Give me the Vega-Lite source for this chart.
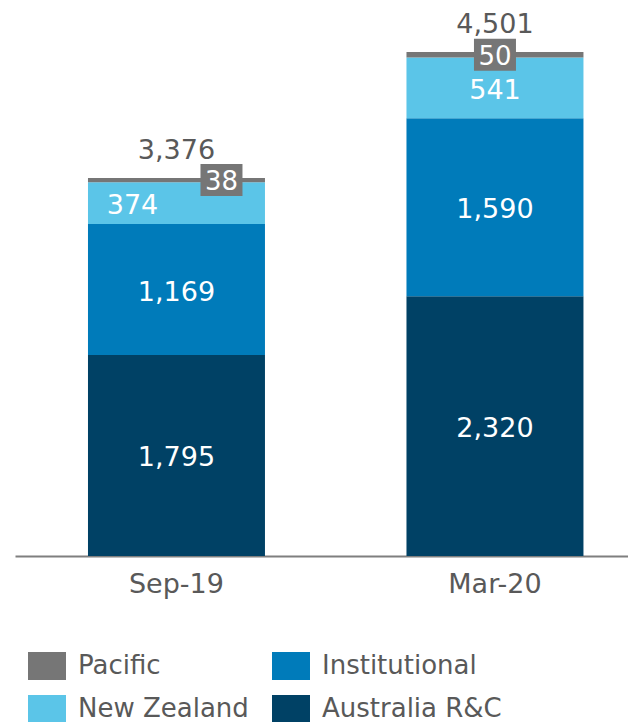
{
  "$schema": "https://vega.github.io/schema/vega-lite/v6.json",
  "width": 613,
  "height": 545,
  "padding": {"left": 15, "top": 10, "right": 0, "bottom": 0},
  "autosize": {"type": "pad"},
  "config": {"view": {"stroke": null}, "font": "DejaVu Sans"},
  "data": {
    "values": [
      {"period": "Sep-19", "segment": "Australia R&C", "rank": 1, "value": 1795},
      {"period": "Sep-19", "segment": "Institutional", "rank": 2, "value": 1169},
      {"period": "Sep-19", "segment": "New Zealand", "rank": 3, "value": 374},
      {"period": "Sep-19", "segment": "Pacific", "rank": 4, "value": 38},
      {"period": "Mar-20", "segment": "Australia R&C", "rank": 1, "value": 2320},
      {"period": "Mar-20", "segment": "Institutional", "rank": 2, "value": 1590},
      {"period": "Mar-20", "segment": "New Zealand", "rank": 3, "value": 541},
      {"period": "Mar-20", "segment": "Pacific", "rank": 4, "value": 50}
    ]
  },
  "transform": [
    {"stack": "value", "groupby": ["period"], "sort": [{"field": "rank", "order": "ascending"}], "as": ["v0", "v1"]},
    {"calculate": "(datum.v0 + datum.v1) / 2", "as": "mid"}
  ],
  "encoding": {
    "x": {
      "field": "period",
      "type": "nominal",
      "sort": ["Sep-19", "Mar-20"],
      "scale": {"paddingInner": 0.4443, "paddingOuter": 0.1845, "align": 0.621},
      "axis": {
        "title": null,
        "labelAngle": 0,
        "ticks": false,
        "domainColor": "#7f7f7f",
        "domainWidth": 2,
        "labelFontSize": 27,
        "labelColor": "#595959",
        "labelFont": "DejaVu Sans",
        "labelPadding": 15
      }
    }
  },
  "layer": [
    {
      "mark": {"type": "bar"},
      "encoding": {
        "y": {"field": "v1", "type": "quantitative", "scale": {"domain": [0, 4867], "nice": false, "zero": true}, "axis": null},
        "y2": {"field": "v0"},
        "color": {
          "field": "segment",
          "type": "nominal",
          "scale": {
            "domain": ["Pacific", "Institutional", "New Zealand", "Australia R&C"],
            "range": ["#767676", "#007bba", "#5bc5e8", "#004165"]
          },
          "legend": {
            "orient": "none",
            "direction": "horizontal",
            "legendX": 18,
            "legendY": 641,
            "columns": 2,
            "title": null,
            "symbolType": "M-1.357,-1H1.357V1H-1.357Z",
            "symbolSize": 784,
            "symbolStrokeWidth": 0,
            "symbolOpacity": 1,
            "labelFontSize": 26,
            "labelColor": "#595959",
            "labelFont": "DejaVu Sans",
            "labelOffset": 17,
            "columnPadding": 23,
            "rowPadding": 15,
            "padding": 0,
            "labelLimit": 400
          }
        }
      }
    },
    {
      "transform": [{"filter": "datum.segment != 'Pacific' && !(datum.segment == 'New Zealand' && datum.period == 'Sep-19')"}],
      "mark": {"type": "text", "color": "#ffffff", "fontSize": 27, "baseline": "alphabetic", "dy": 11},
      "encoding": {
        "y": {"field": "mid", "type": "quantitative"},
        "text": {"field": "value", "type": "quantitative", "format": ","}
      }
    },
    {
      "transform": [{"filter": "datum.segment == 'New Zealand' && datum.period == 'Sep-19'"}],
      "mark": {"type": "text", "color": "#ffffff", "fontSize": 27, "baseline": "alphabetic", "dy": 11, "dx": -44},
      "encoding": {
        "y": {"field": "mid", "type": "quantitative"},
        "text": {"field": "value", "type": "quantitative", "format": ","}
      }
    },
    {
      "transform": [{"filter": "datum.segment == 'Pacific' && datum.period == 'Sep-19'"}],
      "mark": {"type": "point", "shape": "M1.5,-1H4.125V1H1.5Z", "size": 1024, "filled": true, "opacity": 1, "color": "#767676", "strokeWidth": 0},
      "encoding": {
        "y": {"field": "mid", "type": "quantitative"}
      }
    },
    {
      "transform": [{"filter": "datum.segment == 'Pacific' && datum.period == 'Mar-20'"}],
      "mark": {"type": "point", "shape": "M-1.3125,-1H1.3125V1H-1.3125Z", "size": 1024, "filled": true, "opacity": 1, "color": "#767676", "strokeWidth": 0},
      "encoding": {
        "y": {"field": "mid", "type": "quantitative"}
      }
    },
    {
      "transform": [{"filter": "datum.segment == 'Pacific' && datum.period == 'Sep-19'"}],
      "mark": {"type": "text", "color": "#ffffff", "fontSize": 26, "baseline": "alphabetic", "dy": 10, "dx": 45},
      "encoding": {
        "y": {"field": "mid", "type": "quantitative"},
        "text": {"field": "value", "type": "quantitative", "format": ","}
      }
    },
    {
      "transform": [{"filter": "datum.segment == 'Pacific' && datum.period == 'Mar-20'"}],
      "mark": {"type": "text", "color": "#ffffff", "fontSize": 26, "baseline": "alphabetic", "dy": 10},
      "encoding": {
        "y": {"field": "mid", "type": "quantitative"},
        "text": {"field": "value", "type": "quantitative", "format": ","}
      }
    },
    {
      "transform": [{"filter": "datum.segment == 'Pacific'"}],
      "mark": {"type": "text", "color": "#595959", "fontSize": 27, "baseline": "alphabetic", "dy": -19},
      "encoding": {
        "y": {"field": "v1", "type": "quantitative"},
        "text": {"field": "v1", "type": "quantitative", "format": ","}
      }
    }
  ]
}
